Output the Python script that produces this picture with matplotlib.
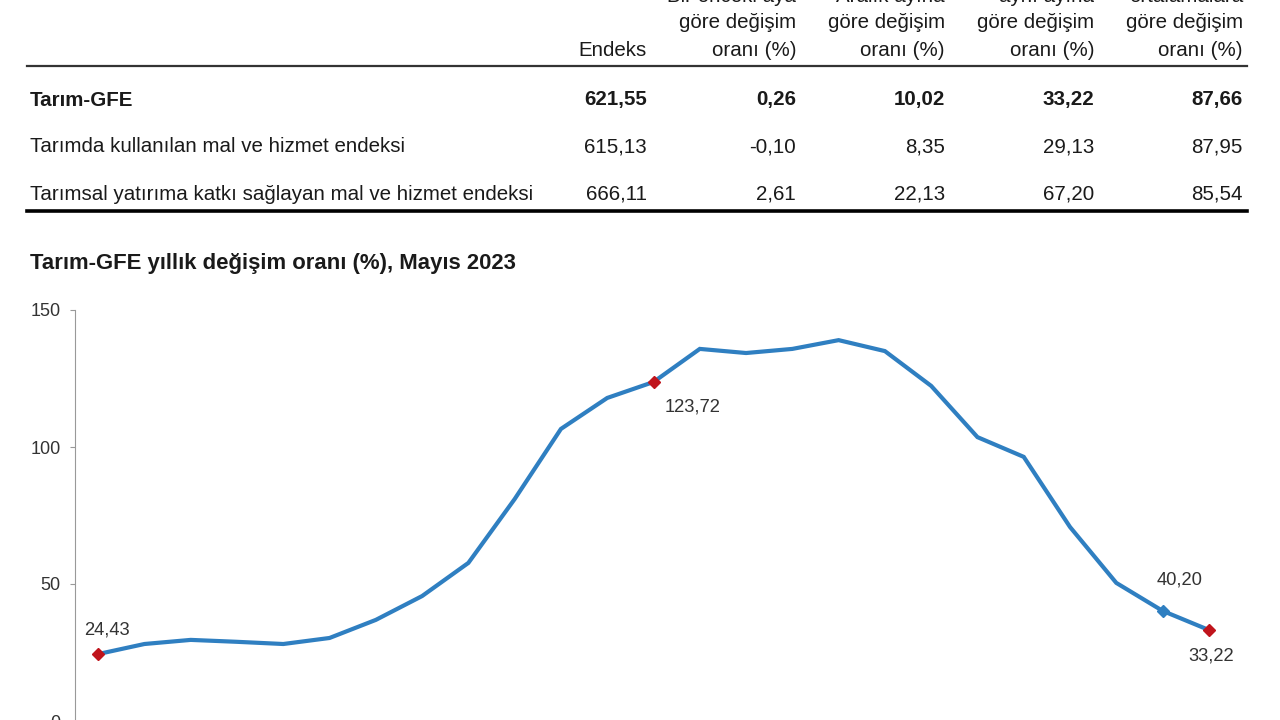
import matplotlib.pyplot as plt

plt.rcParams['font.family'] = ['Liberation Sans', 'DejaVu Sans']

# table data
row_names = ["Tarım-GFE",
             "Tarımda kullanılan mal ve hizmet endeksi",
             "Tarımsal yatırıma katkı sağlayan mal ve hizmet endeksi"]
col_heads = [["", "", "Endeks"],
             ["Bir önceki aya", "göre değişim", "oranı (%)"],
             ["Aralık ayına", "göre değişim", "oranı (%)"],
             ["aynı ayına", "göre değişim", "oranı (%)"],
             ["ortalamalara", "göre değişim", "oranı (%)"]]
table_vals = [["621,55", "0,26", "10,02", "33,22", "87,66"],
              ["615,13", "-0,10", "8,35", "29,13", "87,95"],
              ["666,11", "2,61", "22,13", "67,20", "85,54"]]

# chart data: annual change, May 2021 - May 2023
months = ["May 21", "Haz 21", "Tem 21", "Ağu 21", "Eyl 21", "Eki 21", "Kas 21", "Ara 21",
          "Oca 22", "Şub 22", "Mar 22", "Nis 22", "May 22", "Haz 22", "Tem 22", "Ağu 22",
          "Eyl 22", "Eki 22", "Kas 22", "Ara 22", "Oca 23", "Şub 23", "Mar 23", "Nis 23", "May 23"]
yearly = [24.43, 28.1, 29.6, 28.9, 28.1, 30.3, 36.9, 45.6, 57.7, 81.0, 106.6, 117.9, 123.72,
          135.8, 134.3, 135.8, 139.0, 135.0, 122.3, 103.6, 96.4, 70.8, 50.4, 40.20, 33.22]
red_idx = [0, 12, 24]
blue_idx = [23]

W, H = 1280, 720
fig = plt.figure(figsize=(12.8, 7.2), dpi=100)


def px(x, y):
    return x / W, 1 - y / H


txt = "#1a1a1a"
fs = 14.8

# header
col_right = [647, 796, 945, 1094, 1243]
head_y = [-4, 22, 50]
for c, lines in enumerate(col_heads):
    for i, line in enumerate(lines):
        if line:
            fig.text(*px(col_right[c], head_y[i]), line, ha="right", va="center",
                     fontsize=fs, color=txt)

fig.add_artist(plt.Line2D([27 / W, 1247 / W], [1 - 66 / H, 1 - 66 / H],
                          color="#333333", lw=1.6))
fig.add_artist(plt.Line2D([27 / W, 1247 / W], [1 - 211 / H, 1 - 211 / H],
                          color="#000000", lw=2.6))

row_y = [100, 147, 194]
for r, name in enumerate(row_names):
    weight = "bold" if r == 0 else "normal"
    fig.text(*px(30, row_y[r]), name, ha="left", va="center", fontsize=fs,
             color=txt, fontweight=weight)
    for c, v in enumerate(table_vals[r]):
        fig.text(*px(col_right[c], row_y[r]), v, ha="right", va="center",
                 fontsize=fs, color=txt, fontweight=weight)

fig.text(*px(30, 264), "Tarım-GFE yıllık değişim oranı (%), Mayıs 2023",
         ha="left", va="center", fontsize=15.9, fontweight="bold", color=txt)

# line chart
ax = fig.add_axes([75 / W, (H - 721) / H, (1232 - 75) / W, (721 - 310) / H])
x = list(range(len(yearly)))
ax.plot(x, yearly, color="#2f7fc1", lw=3, solid_joinstyle="miter")
ax.plot([x[i] for i in red_idx], [yearly[i] for i in red_idx], "D",
        color="#c0141c", ms=6, zorder=3)
ax.plot([x[i] for i in blue_idx], [yearly[i] for i in blue_idx], "D",
        color="#2f7fc1", ms=6, zorder=3)

lab = dict(fontsize=13.2, color="#333333")
ax.annotate("24,43", (0, yearly[0]), xytext=(6, 17), textcoords="offset points",
            ha="center", va="center", **lab)
ax.annotate("123,72", (12, yearly[12]), xytext=(28, -18), textcoords="offset points",
            ha="center", va="center", **lab)
ax.annotate("40,20", (23, yearly[23]), xytext=(12, 22), textcoords="offset points",
            ha="center", va="center", **lab)
ax.annotate("33,22", (24, yearly[24]), xytext=(2, -19), textcoords="offset points",
            ha="center", va="center", **lab)

ax.set_xlim(-0.5, len(yearly) - 0.5)
ax.set_ylim(0, 150)
ax.set_yticks([0, 50, 100, 150])
ax.set_xticks([])
ax.tick_params(axis="y", length=3.5, color="#999999", labelsize=13,
               labelcolor="#333333", pad=7)
for s in ["top", "right"]:
    ax.spines[s].set_visible(False)
ax.spines["left"].set_color("#999999")
ax.spines["bottom"].set_color("#cccccc")

fig.savefig("out.png", dpi=100)
